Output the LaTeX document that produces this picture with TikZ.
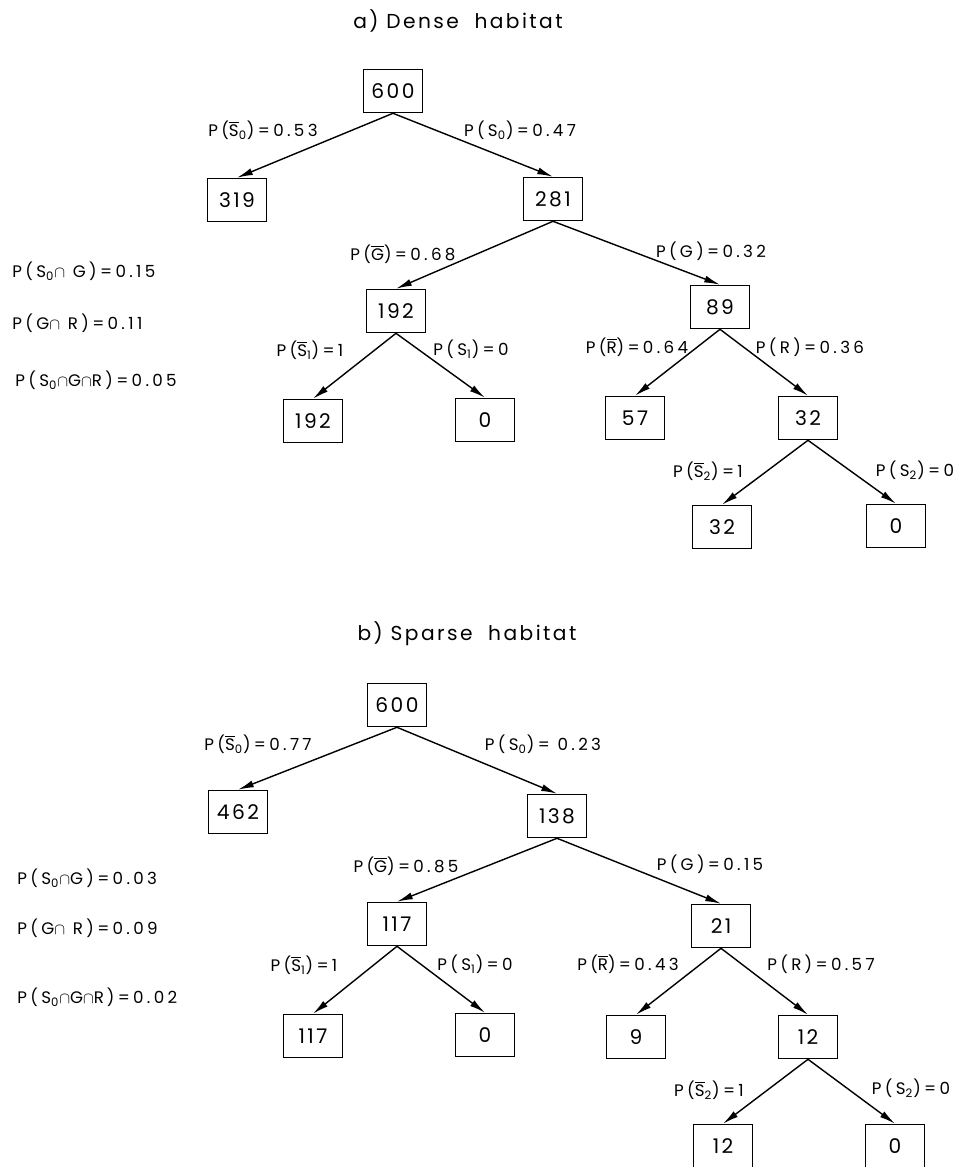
\documentclass[tikz,border=0pt]{standalone}
\usepackage{fontspec}
\setmainfont{Poppins}[LetterSpace=12]
\newfontfamily\labelfont{Poppins}[LetterSpace=20]
\usetikzlibrary{arrows.meta}
\tikzstyle{countBox} = [draw, rectangle, line width=0.9pt, minimum width=1.18cm,
   minimum height=0.86cm, inner sep=0pt, font=\fontsize{11.5}{12}\selectfont]
\tikzstyle{branchArrow} = [line width=0.8pt, -{Latex[length=9pt,width=4pt]}]
\tikzstyle{probText} = [inner sep=0pt, font=\labelfont\fontsize{9.5}{11}\selectfont]
\tikzstyle{jointText} = [probText, anchor=west]
\tikzstyle{titleText} = [inner sep=0pt, font=\fontsize{11.5}{13}\selectfont]
\newcommand{\nb}[1]{\ensuremath{\overline{\mbox{#1}}}}
\newcommand{\idx}[1]{\textsubscript{#1}}
\newcommand{\capx}{\ensuremath{\cap}}

\begin{document}
\begin{tikzpicture}[x=0.02cm, y=-0.02cm]
			\useasboundingbox (0,0) rectangle (961,1167);

			% a) dense habitat: boxes
			\node[titleText] (titleA) at (458,21) {a)\ Dense\ \ habitat};
			\node[countBox] (a0) at (393,91) {600};
			\node[countBox] (a1) at (237,200) {319};
			\node[countBox] (a2) at (553,199) {281};
			\node[countBox] (a3) at (396,311) {192};
			\node[countBox] (a4) at (720,307) {89};
			\node[countBox] (a5) at (313,421) {192};
			\node[countBox] (a6) at (485,420) {0};
			\node[countBox] (a7) at (635,418) {57};
			\node[countBox] (a8) at (808,418) {32};
			\node[countBox] (a9) at (722,527) {32};
			\node[countBox] (a10) at (896,526) {0};

			% a) dense habitat: arrows
			\draw[branchArrow] (a0.south) -- (a1.north);
			\draw[branchArrow] (a0.south) -- (a2.north);
			\draw[branchArrow] (a2.south) -- (a3.north);
			\draw[branchArrow] (a2.south) -- (a4.north);
			\draw[branchArrow] (a3.south) -- (a5.north);
			\draw[branchArrow] (a3.south) -- (a6.north);
			\draw[branchArrow] (a4.south) -- (a7.north);
			\draw[branchArrow] (a4.south) -- (a8.north);
			\draw[branchArrow] (a8.south) -- (a9.north);
			\draw[branchArrow] (a8.south) -- (a10.north);

			% a) dense habitat: probabilities
			\node[probText] (pa1) at (263,130) {P(\nb{S}\idx{0})=0.53};
			\node[probText] (pa2) at (520,130) {P(S\idx{0})=0.47};
			\node[probText] (pa3) at (403,254) {P(\nb{G})=0.68};
			\node[probText] (pa4) at (711,251) {P(G)=0.32};
			\node[probText] (pa5) at (310,350) {P(\nb{S}\idx{1})=1};
			\node[probText] (pa6) at (471,349) {P(S\idx{1})=0};
			\node[probText] (pa7) at (637,347) {P(\nb{R})=0.64};
			\node[probText] (pa8) at (810,347) {P(R)=0.36};
			\node[probText] (pa9) at (708,471) {P(\nb{S}\idx{2})=1};
			\node[probText] (pa10) at (915,470) {P(S\idx{2})=0};
			\node[jointText] (ja1) at (12,271) {P(S\idx{0}\capx\ G)=0.15};
			\node[jointText] (ja2) at (12,323) {P(G\capx\ R)=0.11};
			\node[jointText] (ja3) at (15,380) {P(S\idx{0}\capx G\capx R)=0.05};

			% b) sparse habitat: boxes
			\node[titleText] (titleB) at (467,634) {b)\ Sparse\ \ habitat};
			\node[countBox] (b0) at (397,705) {600};
			\node[countBox] (b1) at (238,812) {462};
			\node[countBox] (b2) at (557,816) {138};
			\node[countBox] (b3) at (397,924) {117};
			\node[countBox] (b4) at (721,926) {21};
			\node[countBox] (b5) at (313,1036) {117};
			\node[countBox] (b6) at (485,1035) {0};
			\node[countBox] (b7) at (636,1037) {9};
			\node[countBox] (b8) at (808,1037) {12};
			\node[countBox] (b9) at (723,1146) {12};
			\node[countBox] (b10) at (895,1146) {0};

			% b) sparse habitat: arrows
			\draw[branchArrow] (b0.south) -- (b1.north);
			\draw[branchArrow] (b0.south) -- (b2.north);
			\draw[branchArrow] (b2.south) -- (b3.north);
			\draw[branchArrow] (b2.south) -- (b4.north);
			\draw[branchArrow] (b3.south) -- (b5.north);
			\draw[branchArrow] (b3.south) -- (b6.north);
			\draw[branchArrow] (b4.south) -- (b7.north);
			\draw[branchArrow] (b4.south) -- (b8.north);
			\draw[branchArrow] (b8.south) -- (b9.north);
			\draw[branchArrow] (b8.south) -- (b10.north);

			% b) sparse habitat: probabilities
			\node[probText] (pb1) at (258,744) {P(\nb{S}\idx{0})=0.77};
			\node[probText] (pb2) at (543,744) {P(S\idx{0})= 0.23};
			\node[probText] (pb3) at (406,866) {P(\nb{G})=0.85};
			\node[probText] (pb4) at (710,864) {P(G)=0.15};
			\node[probText] (pb5) at (304,965) {P(\nb{S}\idx{1})=1};
			\node[probText] (pb6) at (475,964) {P(S\idx{1})=0};
			\node[probText] (pb7) at (628,964) {P(\nb{R})=0.43};
			\node[probText] (pb8) at (821,964) {P(R)=0.57};
			\node[probText] (pb9) at (709,1090) {P(\nb{S}\idx{2})=1};
			\node[probText] (pb10) at (911,1088) {P(S\idx{2})=0};
			\node[jointText] (jb1) at (17,878) {P(S\idx{0}\capx G)=0.03};
			\node[jointText] (jb2) at (17,928) {P(G\capx\ R)=0.09};
			\node[jointText] (jb3) at (17,997) {P(S\idx{0}\capx G\capx R\,)=0.02};
\end{tikzpicture}
\end{document}
